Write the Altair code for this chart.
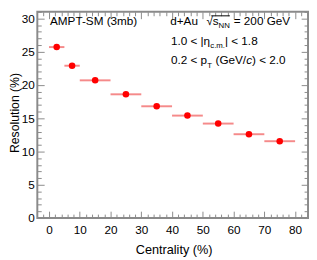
import altair as alt
import pandas as pd

# ---- data ----
centrality = [2.5, 7.5, 15, 25, 35, 45, 55, 65, 75]
bin_low = [0, 5, 10, 20, 30, 40, 50, 60, 70]
bin_high = [5, 10, 20, 30, 40, 50, 60, 70, 80]
resolution = [25.7, 22.9, 20.7, 18.6, 16.8, 15.4, 14.2, 12.6, 11.55]

x_major = [0, 10, 20, 30, 40, 50, 60, 70, 80]
y_major = [0, 5, 10, 15, 20, 25, 30]
x_ticks = list(range(-2, 85, 2))
y_ticks = list(range(0, 32))

df = pd.DataFrame(dict(cent=centrality, lo=bin_low, hi=bin_high, res=resolution))

W, H = 277, 211
XD = [-3.8, 84.2]
YD = [0, 31]
FONT = "Liberation Sans"
GRAY = "#8a8a8a"


def xs():
    return alt.Scale(domain=XD, nice=False, zero=False)


def ys():
    return alt.Scale(domain=YD, nice=False, zero=False)


def tick_axis(orient, values, offset, test):
    return alt.Axis(
        orient=orient, values=values, offset=offset, labels=False,
        domain=False, grid=False, ticks=True, tickColor=GRAY, tickWidth=1,
        tickSize={"condition": {"test": test, "value": 7}, "value": 4},
        title=None,
    )


bars = alt.Chart(df).mark_rule(color="#f58a8a", strokeWidth=2).encode(
    x=alt.X("lo:Q", scale=xs(), axis=alt.Axis(
        orient="bottom", values=x_major, ticks=False, domain=False, grid=False,
        labelPadding=7, labelFontSize=12, labelColor="black", labelFont=FONT,
        title="Centrality (%)", titleX=139.5, titleY=36, titleAlign="center",
        titleBaseline="alphabetic", titleFontSize=13, titleFont=FONT,
        titleFontWeight="normal", titleColor="black")),
    x2=alt.X2("hi:Q"),
    y=alt.Y("res:Q", scale=ys(), axis=alt.Axis(
        orient="left", values=y_major, ticks=False, domain=False, grid=False,
        labelPadding=3, labelFontSize=12, labelColor="black", labelFont=FONT,
        title="Resolution (%)", titleX=-19.5, titleY=103, titleAngle=270,
        titleAlign="center", titleBaseline="alphabetic", titleFontSize=12.5,
        titleFont=FONT, titleFontWeight="normal", titleColor="black")),
)

points = alt.Chart(df).mark_circle(color="#ff0000", size=45, opacity=1).encode(
    x=alt.X("cent:Q", scale=xs(), axis=None),
    y=alt.Y("res:Q", scale=ys(), axis=None),
)

ticks_a = alt.Chart(df).mark_point(opacity=0).encode(
    x=alt.X("cent:Q", scale=xs(), axis=tick_axis("top", x_ticks, -H, "datum.value % 10 === 0")),
    y=alt.Y("res:Q", scale=ys(), axis=tick_axis("right", y_ticks, -W, "datum.value % 5 === 0")),
)
ticks_b = alt.Chart(df).mark_point(opacity=0).encode(
    x=alt.X("cent:Q", scale=xs(), axis=tick_axis("bottom", x_ticks, -H, "datum.value % 10 === 0")),
    y=alt.Y("res:Q", scale=ys(), axis=tick_axis("left", y_ticks, -W, "datum.value % 5 === 0")),
)

one = alt.Data(values=[{}])


def txt(s, x, y, size=12, style="normal"):
    return alt.Chart(one).mark_text(
        text=s, align="left", baseline="alphabetic", font=FONT,
        fontSize=size, fontStyle=style, color="black",
    ).encode(x=alt.value(x), y=alt.value(y))


L1, L2, L3 = 13.5, 34, 53.5

overline = alt.Chart(one).mark_rule(color="black", strokeWidth=1).encode(
    x=alt.value(178), x2=alt.value(197), y=alt.value(L1 - 9.4))

texts = [
    txt("AMPT-SM (3mb)", 13, L1),
    txt("d+Au", 136, L1),
    txt("\u221a", 173, L1),
    txt("s", 179.5, L1),
    txt("NN", 185.5, L1 + 3, size=8),
    txt("= 200 GeV", 201, L1),
    txt("1.0 < |\u03b7", 136.7, L2),
    txt("c.m.", 177, L2 + 3, size=8),
    txt("| < 1.8", 192, L2),
    txt("0.2 < p", 136.7, L3),
    txt("T", 174, L3 + 4, size=8),
    txt("(GeV/", 182.3, L3),
    txt("c", 213.7, L3, style="italic"),
    txt(") < 2.0", 219.7, L3),
]

chart = alt.layer(bars, points, ticks_a, ticks_b, overline, *texts).resolve_scale(
    x="independent", y="independent"
).resolve_axis(
    x="independent", y="independent"
).properties(
    width=W, height=H,
    autosize=alt.AutoSizeParams(type="none"),
    padding={"left": 30, "top": 1, "right": 1, "bottom": 39},
    background="white",
).configure_view(stroke=GRAY, strokeWidth=2)

chart.save("out.html", embed_options={"renderer": "svg", "actions": False})
